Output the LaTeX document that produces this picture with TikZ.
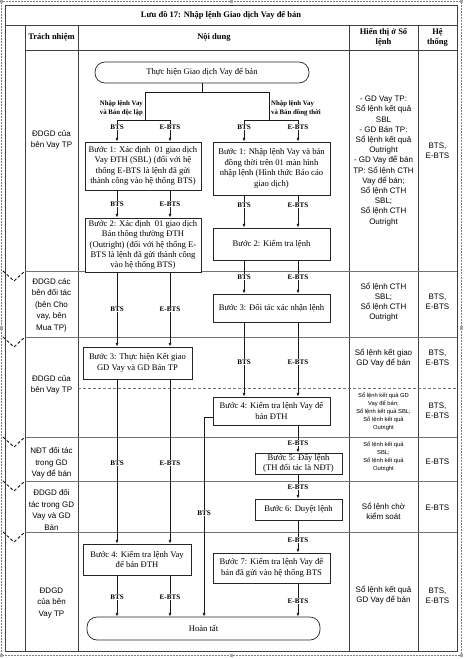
\documentclass[tikz,border=0pt]{standalone}
\usepackage{fontspec}
\setmainfont{Liberation Serif}
\newfontfamily\arialf{Liberation Sans}
\usetikzlibrary{arrows.meta}
\begin{document}
\begin{tikzpicture}[x=1pt,y=-1pt,
  tbl/.style={draw=black!75,line width=0.7pt},
  rowl/.style={draw=black!55,line width=0.55pt},
  box/.style={draw=black!85,line width=0.7pt,fill=white,align=center,inner sep=1pt,font=\fontsize{8.6}{10.4}\selectfont},
  term/.style={box,rounded corners=10pt},
  arr/.style={-{Latex[length=3.8pt,width=3pt]},line width=0.7pt,draw=black!90},
  ln/.style={line width=0.7pt,draw=black!90},
  lab/.style={font=\bfseries\fontsize{7.1}{7.5}\selectfont,fill=white,inner sep=0.6pt},
  brl/.style={font=\bfseries\fontsize{6.8}{8.6}\selectfont,inner sep=0pt},
  hdr/.style={font=\bfseries\fontsize{8.5}{10}\selectfont,align=center},
  resp/.style={font=\arialf\fontsize{8}{11.5}\selectfont,align=center},
  disp/.style={font=\arialf\fontsize{8}{10.2}\selectfont,align=center},
  dsm/.style={font=\arialf\fontsize{5.8}{8}\selectfont,align=center},
  chev/.style={draw=black,densely dashed,line width=0.8pt}]
\useasboundingbox (0,0) rectangle (473,659);
% selection frame
\draw[gray,densely dotted,line width=0.5pt] (1.5,1.5) rectangle (461.5,655.5);
\foreach \p in {(1.5,1.5),(231.5,1.5),(461.5,1.5),(1.5,328),(461.5,328),(1.5,655.5),(231.5,655.5),(461.5,655.5)}
  \fill[gray!70] \p ++(-1.6,-1.6) rectangle ++(3.2,3.2);
% table
\draw[tbl] (5,5) rectangle (457,651);
\draw[tbl] (5,25) -- (457,25);
\draw[tbl] (25,50) -- (457,50);
\foreach \x in {25,78,349,418} \draw[tbl] (\x,25) -- (\x,651);
\foreach \y in {271,337,437,481,532} \draw[rowl] (25,\y) -- (457,\y);
\draw[rowl,densely dashed] (78,388) -- (457,388);
% chevrons
\foreach \y in {271,337,437,481,532} \draw[chev] (3,\y) -- (14,\y+10) -- (25,\y);
% headers
\node[hdr] (title) at (221,15) {Lưu đồ 17: Nhập lệnh Giao dịch Vay để bán};
\node[hdr] (h1) at (51.5,37.5) {Trách nhiệm};
\node[hdr] (h2) at (214,37.5) {Nội dung};
\node[hdr] (h3) at (383.5,37.5) {Hiển thị ở Sổ\\lệnh};
\node[hdr] (h4) at (437.5,37.5) {Hệ\\thống};
% responsibility
\node[resp] (r1) at (51.5,140) {ĐDGD của\\bên Vay TP};
\node[resp] (r2) at (51.5,305) {ĐDGD các\\bên đối tác\\(bên Cho\\vay, bên\\Mua TP)};
\node[resp] (r3) at (51.5,385) {ĐDGD của\\bên Vay TP};
\node[resp] (r4) at (51.5,463) {NĐT đối tác\\trong GD\\Vay để bán};
\node[resp] (r5) at (51.5,510) {ĐDGD đối\\tác trong GD\\Vay và GD\\Bán};
\node[resp] (r6) at (51.5,603) {ĐDGD\\của bên\\Vay TP};
% display column
\node[disp] (d1) at (383.5,161) {- GD Vay TP:\\Sổ lệnh kết quả\\SBL\\- GD Bán TP:\\Sổ lệnh kết quả\\Outright\\- GD Vay để bán\\TP: Sổ lệnh CTH\\Vay để bán;\\Sổ lệnh CTH\\SBL;\\Sổ lệnh CTH\\Outright};
\node[disp] (d2) at (383.5,302) {Sổ lệnh CTH\\SBL;\\Sổ lệnh CTH\\Outright};
\node[disp] (d3) at (383.5,358) {Sổ lệnh kết giao\\GD Vay để bán};
\node[dsm] (d4) at (383.5,412) {Sổ lệnh kết quả GD\\Vay để bán;\\Sổ lệnh kết quả SBL;\\Sổ lệnh kết quả\\Outright};
\node[dsm] (d5) at (383.5,457) {Sổ lệnh kết quả\\SBL;\\Sổ lệnh kết quả\\Outright};
\node[disp] (d6) at (383.5,511) {Sổ lệnh chờ\\kiểm soát};
\node[disp] (d7) at (383.5,595) {Sổ lệnh kết quả\\GD Vay để bán};
% system column
\node[disp] (s1) at (437.5,151) {BTS,\\E-BTS};
\node[disp] (s2) at (437.5,302) {BTS,\\E-BTS};
\node[disp] (s3) at (437.5,358) {BTS,\\E-BTS};
\node[disp] (s4) at (437.5,411) {BTS,\\E-BTS};
\node[disp] (s5) at (437.5,462) {E-BTS};
\node[disp] (s6) at (437.5,508) {E-BTS};
\node[disp] (s7) at (437.5,596) {BTS,\\E-BTS};
% flow nodes
\node[term,minimum width=214pt,minimum height=21pt] (S) at (202,72.5) {Thực hiện Giao dịch Vay để bán};
\node[box,minimum width=116pt,minimum height=48pt] (L1) at (143,166) {Bước 1: Xác định\ \ 01 giao dịch\\Vay ĐTH (SBL) (đối với hệ\\thống E-BTS là lệnh đã gửi\\thành công vào hệ thống BTS)};
\node[box,minimum width=116pt,minimum height=54pt] (L2) at (143,245) {Bước 2: Xác định\ \ 01 giao dịch\\Bán thông thường ĐTH\\(Outright) (đối với hệ thống E-\\BTS là lệnh đã gửi thành công\\vào hệ thống BTS)};
\node[box,minimum width=109pt,minimum height=32pt] (L3) at (137.5,363) {Bước 3: Thực hiện Kết giao\\GD Vay và GD Bán TP};
\node[box,minimum width=108pt,minimum height=31pt] (L4) at (137,559.5) {Bước 4: Kiểm tra lệnh Vay\\để bán ĐTH};
\node[box,minimum width=117pt,minimum height=53pt] (R1) at (271.5,168.5) {Bước 1: Nhập lệnh Vay và bán\\đồng thời trên 01 màn hình\\nhập lệnh (Hình thức Báo cáo\\giao dịch)};
\node[box,minimum width=117pt,minimum height=32pt] (R2) at (271.5,244) {Bước 2: Kiểm tra lệnh};
\node[box,minimum width=117pt,minimum height=28pt] (R3) at (271.5,308) {Bước 3: Đối tác xác nhận lệnh};
\node[box,minimum width=117pt,minimum height=28pt] (R4) at (271.5,411) {Bước 4: Kiểm tra lệnh Vay để\\bán ĐTH};
\node[box,minimum width=87pt,minimum height=21pt] (R5) at (298.5,463.5) {Bước 5: Đẩy lệnh\\(TH đối tác là NĐT)};
\node[box,minimum width=87pt,minimum height=21pt] (R6) at (298.5,509.5) {Bước 6: Duyệt lệnh};
\node[box,minimum width=117pt,minimum height=30pt] (R7) at (271.5,568) {Bước 7: Kiểm tra lệnh Vay để\\bán đã gửi vào hệ thống BTS};
\node[term,minimum width=233pt,minimum height=23pt] (E) at (203.5,628.5) {Hoàn tất};
% coordinates
\coordinate (xa) at (117,0);
\coordinate (xb) at (170,0);
\coordinate (xc) at (244,0);
\coordinate (xd) at (298,0);
\coordinate (j0) at (202,92);
\coordinate (jl) at (145,92);
\coordinate (jr) at (269,92);
\coordinate (jl2) at (145,120);
\coordinate (jr2) at (269,120);
\coordinate (e1) at (204,417);
% split
\draw[ln] (S.south) -- (j0);
\draw[ln] (jl) -- (jr);
\draw[ln] (jl) -- (jl2);
\draw[ln] (jr) -- (jr2);
\draw[ln] (jl2 -| xa) -- (jl2 -| xb);
\draw[ln] (jr2 -| xc) -- (jr2 -| xd);
\node[brl,anchor=south east,align=right] (bl) at (143,116) {Nhập lệnh Vay\\và Bán độc lập};
\node[brl,anchor=south west,align=left] (br) at (271,116) {Nhập lệnh Vay\\và Bán đồng thời};
% left flow
\draw[arr] (jl2 -| xa) -- (L1.north -| xa) node[lab,pos=0.32]{BTS};
\draw[arr] (jl2 -| xb) -- (L1.north -| xb) node[lab,pos=0.32]{E-BTS};
\draw[arr] (L1.south -| xa) -- (L2.north -| xa) node[lab,pos=0.5]{BTS};
\draw[arr] (L1.south -| xb) -- (L2.north -| xb) node[lab,pos=0.5]{E-BTS};
\draw[arr] (L2.south -| xa) -- (L3.north -| xa) node[lab,pos=0.5]{BTS};
\draw[arr] (L2.south -| xb) -- (L3.north -| xb) node[lab,pos=0.5]{E-BTS};
\draw[arr] (L3.south -| xa) -- (L4.north -| xa) node[lab,pos=0.51]{BTS};
\draw[arr] (L3.south -| xb) -- (L4.north -| xb) node[lab,pos=0.51]{E-BTS};
\draw[arr] (L4.south -| xa) -- (E.north -| xa) node[lab,pos=0.52]{BTS};
\draw[arr] (L4.south -| xb) -- (E.north -| xb) node[lab,pos=0.52]{E-BTS};
% right flow
\draw[arr] (jr2 -| xc) -- (R1.north -| xc) node[lab,pos=0.32]{BTS};
\draw[arr] (jr2 -| xd) -- (R1.north -| xd) node[lab,pos=0.32]{E-BTS};
\draw[arr] (R1.south -| xc) -- (R2.north -| xc) node[lab,pos=0.3]{BTS};
\draw[arr] (R1.south -| xd) -- (R2.north -| xd) node[lab,pos=0.3]{E-BTS};
\draw[arr] (R2.south -| xc) -- (R3.north -| xc) node[lab,pos=0.5]{BTS};
\draw[arr] (R2.south -| xd) -- (R3.north -| xd) node[lab,pos=0.5]{E-BTS};
\draw[arr] (R3.south -| xc) -- (R4.north -| xc) node[lab,pos=0.53]{BTS};
\draw[arr] (R3.south -| xd) -- (R4.north -| xd) node[lab,pos=0.53]{E-BTS};
\draw[arr] (R4.south -| xd) -- (R5.north -| xd) node[lab,pos=0.64]{E-BTS};
\draw[arr] (R5.south -| xd) -- (R6.north -| xd) node[lab,pos=0.52]{E-BTS};
\draw[arr] (R6.south -| xd) -- (R7.north -| xd) node[lab,pos=0.6]{E-BTS};
\draw[arr] (R7.south -| xd) -- (E.north -| xd) node[lab,pos=0.53]{E-BTS};
\draw[arr] (R4.west |- e1) -- (e1) -- (E.north -| e1) node[lab,pos=0.48]{BTS};
\end{tikzpicture}
\end{document}
